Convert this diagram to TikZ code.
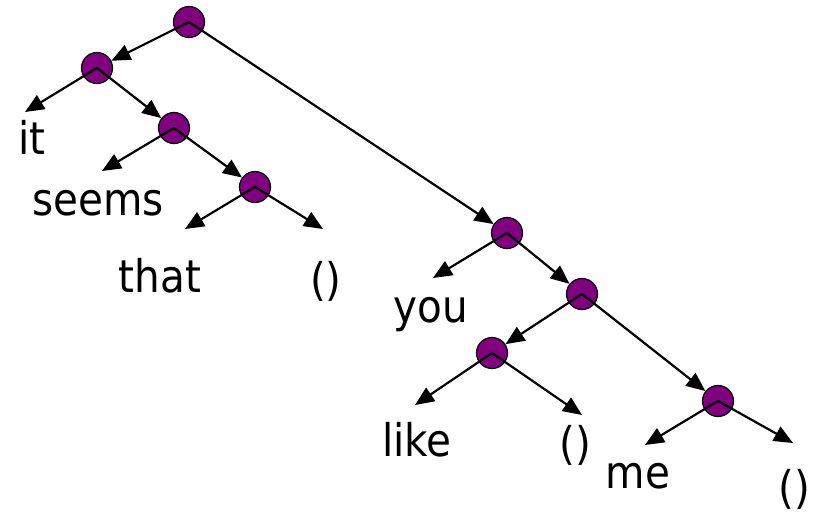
\documentclass[tikz,border=0pt]{standalone}
\usepackage{fontspec}
\setmainfont{DejaVu Sans}[FakeStretch=0.9]
\usetikzlibrary{arrows.meta}
\definecolor{conscell}{RGB}{128,0,128}
\begin{document}
\begin{tikzpicture}[x=1pt,y=-1pt,
    cell/.style={circle,draw,fill=conscell,minimum size=31pt,inner sep=0pt,line width=1.2pt},
    word/.style={anchor=base,inner sep=0pt,font=\fontsize{45}{54}\selectfont},
    link/.style={line width=2.2pt,-{Triangle[length=19pt,width=16pt]}}]
        \useasboundingbox (0,0) rectangle (814,516);
        % cons cells
        \node[cell] (r) at (189,22) {};
        \node[cell] (a) at (97,68) {};
        \node[cell] (b) at (174,128) {};
        \node[cell] (c) at (255,187) {};
        \node[cell] (d) at (507,233) {};
        \node[cell] (e) at (582,294) {};
        \node[cell] (f) at (492,353) {};
        \node[cell] (g) at (718,401) {};
        % words
        \node[word] (it) at (32,155) {it};
        \node[word] (seems) at (98,215) {seems};
        \node[word] (that) at (160,292) {that};
        \node[word] (nil1) at (326,295) {()};
        \node[word] (you) at (431,322) {you};
        \node[word] (like) at (417,456) {like};
        \node[word] (nil2) at (575,459) {()};
        \node[word] (me) at (638,488) {me};
        \node[word] (nil3) at (794,503) {()};
        % arrow ends above the words
        \coordinate (to-it) at (25,112);
        \coordinate (to-seems) at (102,171);
        \coordinate (to-that) at (185,229);
        \coordinate (to-nil1) at (323,229);
        \coordinate (to-you) at (433,278);
        \coordinate (to-like) at (415,405);
        \coordinate (to-nil2) at (582,415);
        \coordinate (to-me) at (645,445);
        \coordinate (to-nil3) at (793,443);
        \draw[link] (r.center) -- (a);
        \draw[link] (r.center) -- (d);
        \draw[link] (a.center) -- (to-it);
        \draw[link] (a.center) -- (b);
        \draw[link] (b.center) -- (to-seems);
        \draw[link] (b.center) -- (c);
        \draw[link] (c.center) -- (to-that);
        \draw[link] (c.center) -- (to-nil1);
        \draw[link] (d.center) -- (to-you);
        \draw[link] (d.center) -- (e);
        \draw[link] (e.center) -- (f);
        \draw[link] (e.center) -- (g);
        \draw[link] (f.center) -- (to-like);
        \draw[link] (f.center) -- (to-nil2);
        \draw[link] (g.center) -- (to-me);
        \draw[link] (g.center) -- (to-nil3);
\end{tikzpicture}
\end{document}
